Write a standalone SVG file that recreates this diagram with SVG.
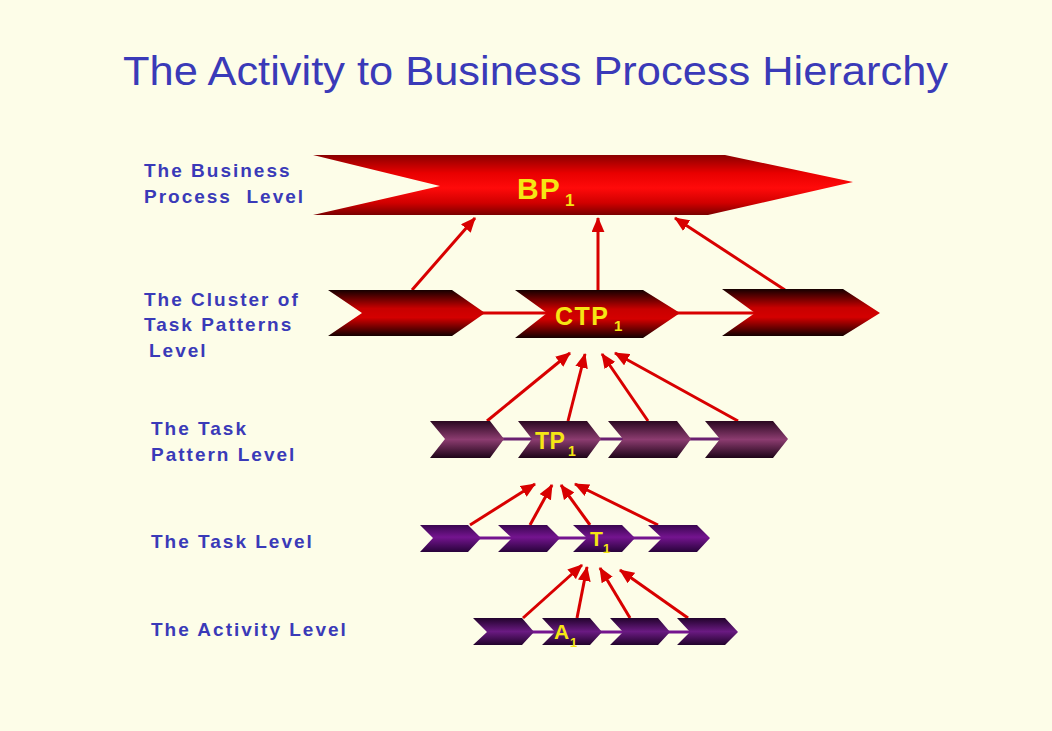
<svg xmlns="http://www.w3.org/2000/svg" width="1052" height="731" viewBox="0 0 1052 731">
<defs>
<linearGradient id="gBP" x1="0" y1="0" x2="0" y2="1">
<stop offset="0" stop-color="#8a0000"/><stop offset="0.3" stop-color="#e80000"/><stop offset="0.55" stop-color="#ff0a0a"/><stop offset="0.8" stop-color="#d00000"/><stop offset="1" stop-color="#7a0000"/>
</linearGradient>
<linearGradient id="gCTP" x1="0" y1="0" x2="0" y2="1">
<stop offset="0" stop-color="#150000"/><stop offset="0.4" stop-color="#c80000"/><stop offset="0.6" stop-color="#d40000"/><stop offset="1" stop-color="#150000"/>
</linearGradient>
<linearGradient id="gTP" x1="0" y1="0" x2="0" y2="1">
<stop offset="0" stop-color="#2a0820"/><stop offset="0.5" stop-color="#8c3c70"/><stop offset="1" stop-color="#1e0518"/>
</linearGradient>
<linearGradient id="gT" x1="0" y1="0" x2="0" y2="1">
<stop offset="0" stop-color="#3a0650"/><stop offset="0.45" stop-color="#74148f"/><stop offset="1" stop-color="#28033a"/>
</linearGradient>
<linearGradient id="gA" x1="0" y1="0" x2="0" y2="1">
<stop offset="0" stop-color="#22032c"/><stop offset="0.5" stop-color="#6a1a82"/><stop offset="1" stop-color="#22032c"/>
</linearGradient>
<marker id="ah" viewBox="0 0 14 12" refX="13" refY="6" markerWidth="15" markerHeight="13" markerUnits="userSpaceOnUse" orient="auto">
<path d="M0,0 L14,6 L0,12 Z" fill="#d80000"/>
</marker>
<style>
.title{font-family:"Liberation Sans",Arial,sans-serif;font-size:40px;fill:#3a3ab8}
.lbl{font-family:"Liberation Sans",Arial,sans-serif;font-weight:bold;font-size:19px;fill:#3a3ab8;letter-spacing:2px;white-space:pre}
.nt{font-family:"Liberation Sans",Arial,sans-serif;font-weight:bold;fill:#f5e614}
.arr{stroke:#d80000;stroke-width:3;fill:none;marker-end:url(#ah)}
.lnR{stroke:#d80000;stroke-width:3}
.lnP{stroke:#6a2070;stroke-width:3}
.lnV{stroke:#74148f;stroke-width:3}
</style>
</defs>
<rect width="1052" height="731" fill="#fdfde8"/>
<text class="title" x="123" y="85" textLength="825" lengthAdjust="spacingAndGlyphs">The Activity to Business Process Hierarchy</text>

<g id="labels">
<text class="lbl" x="144" y="177">The Business</text>
<text class="lbl" x="144" y="203" xml:space="preserve">Process  Level</text>
<text class="lbl" x="144" y="306">The Cluster of</text>
<text class="lbl" x="144" y="331">Task Patterns</text>
<text class="lbl" x="149" y="357">Level</text>
<text class="lbl" x="151" y="435">The Task</text>
<text class="lbl" x="151" y="461">Pattern Level</text>
<text class="lbl" x="151" y="548">The Task Level</text>
<text class="lbl" x="151" y="636">The Activity Level</text>
</g>

<g id="connectors">
<line class="lnR" x1="480" y1="313" x2="760" y2="313"/>
<line class="lnP" x1="500" y1="439" x2="725" y2="439"/>
<line class="lnV" x1="478" y1="538" x2="665" y2="538"/>
<line class="lnV" x1="530" y1="632" x2="693" y2="632"/>
<line class="arr" x1="412" y1="290" x2="475" y2="218"/>
<line class="arr" x1="598" y1="290" x2="598" y2="218"/>
<line class="arr" x1="785" y1="290" x2="675" y2="218"/>
<line class="arr" x1="487" y1="421" x2="570" y2="353"/>
<line class="arr" x1="568" y1="421" x2="585" y2="354"/>
<line class="arr" x1="648" y1="421" x2="602" y2="354"/>
<line class="arr" x1="738" y1="421" x2="615" y2="353"/>
<line class="arr" x1="470" y1="525" x2="535" y2="484"/>
<line class="arr" x1="530" y1="525" x2="552" y2="485"/>
<line class="arr" x1="590" y1="525" x2="561" y2="485"/>
<line class="arr" x1="658" y1="525" x2="575" y2="484"/>
<line class="arr" x1="523" y1="618" x2="582" y2="565"/>
<line class="arr" x1="577" y1="618" x2="587" y2="567"/>
<line class="arr" x1="630" y1="618" x2="600" y2="568"/>
<line class="arr" x1="688" y1="618" x2="620" y2="570"/>
</g>

<g id="bp1">
<polygon points="313,155 725,155 853,182 708,215 313,215 440,186" fill="url(#gBP)"/>
<text class="nt" x="517" y="199" font-size="30" letter-spacing="1">BP</text>
<text class="nt" x="565" y="206" font-size="17">1</text>
</g>

<g id="ctp-a"><polygon points="328,290 452,290 485,313 452,336 328,336 362,313" fill="url(#gCTP)"/></g>
<g id="ctp1">
<polygon points="515,290 643,290 680,313 643,338 515,338 547,313" fill="url(#gCTP)"/>
<text class="nt" x="555" y="325" font-size="25" letter-spacing="1.5">CTP</text>
<text class="nt" x="614" y="331" font-size="15">1</text>
</g>
<g id="ctp-c"><polygon points="722,289 843,289 880,313 843,336 722,336 755,313" fill="url(#gCTP)"/></g>

<g id="tp-a"><polygon points="430,421 490,421 504,439 490,458 430,458 445,439" fill="url(#gTP)"/></g>
<g id="tp1">
<polygon points="518,421 587,421 601,439 587,458 518,458 532,439" fill="url(#gTP)"/>
<text class="nt" x="535" y="449" font-size="23" letter-spacing="0.5">TP</text>
<text class="nt" x="568" y="456" font-size="14">1</text>
</g>
<g id="tp-c"><polygon points="608,421 677,421 691,439 677,458 608,458 623,439" fill="url(#gTP)"/></g>
<g id="tp-d"><polygon points="705,421 773,421 788,439 773,458 705,458 720,439" fill="url(#gTP)"/></g>

<g id="t-a"><polygon points="420,525 468,525 481,538 468,552 420,552 433,538" fill="url(#gT)"/></g>
<g id="t-b"><polygon points="498,525 547,525 560,538 547,552 498,552 512,538" fill="url(#gT)"/></g>
<g id="t1">
<polygon points="573,525 622,525 635,538 622,552 573,552 587,538" fill="url(#gT)"/>
<text class="nt" x="590" y="546" font-size="21">T</text>
<text class="nt" x="603" y="553" font-size="13">1</text>
</g>
<g id="t-d"><polygon points="648,525 697,525 710,538 697,552 648,552 662,538" fill="url(#gT)"/></g>

<g id="a-a"><polygon points="473,618 522,618 534,632 522,645 473,645 487,632" fill="url(#gA)"/></g>
<g id="a1">
<polygon points="542,618 590,618 602,632 590,645 542,645 555,632" fill="url(#gA)"/>
<text class="nt" x="554" y="639" font-size="21">A</text>
<text class="nt" x="570" y="647" font-size="13">1</text>
</g>
<g id="a-c"><polygon points="610,618 658,618 670,632 658,645 610,645 623,632" fill="url(#gA)"/></g>
<g id="a-d"><polygon points="677,618 725,618 738,632 725,645 677,645 690,632" fill="url(#gA)"/></g>
</svg>
